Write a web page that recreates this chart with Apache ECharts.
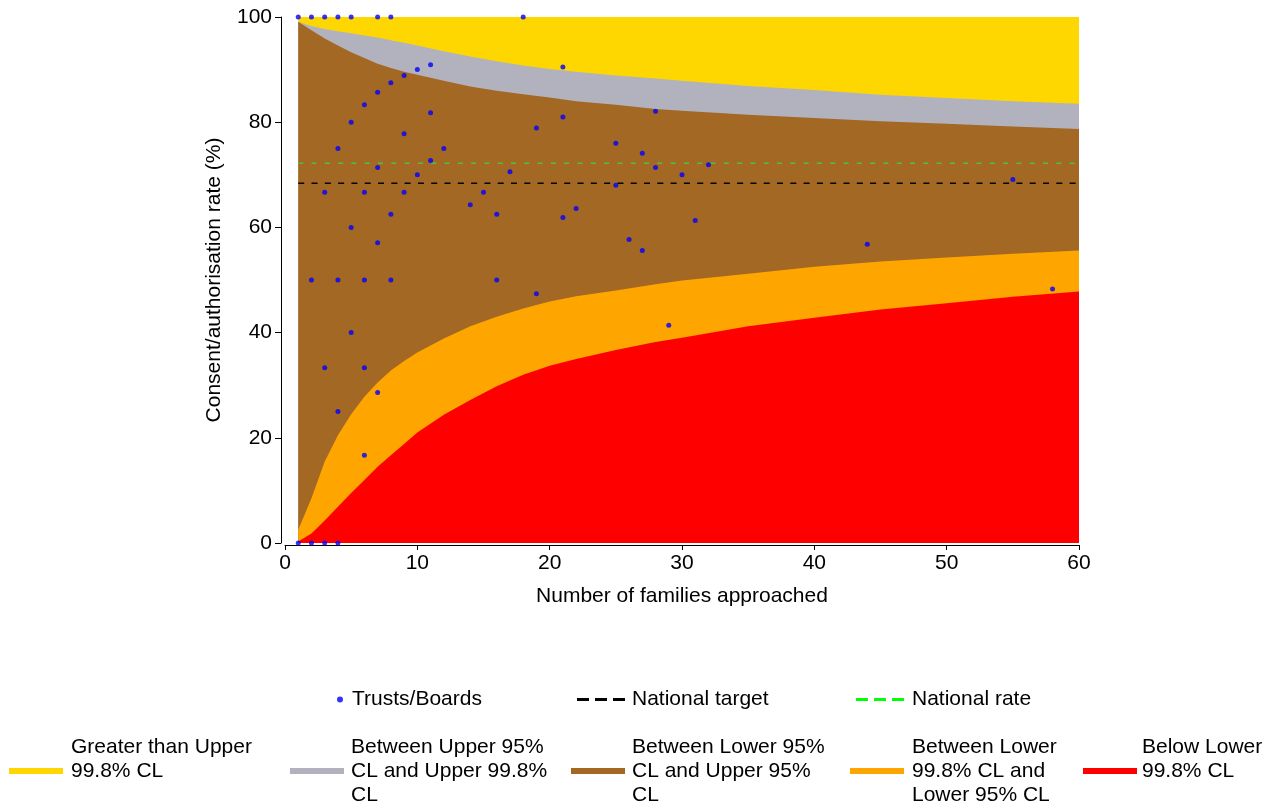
<!DOCTYPE html>
<html>
<head>
<meta charset="utf-8">
<script src="https://cdn.jsdelivr.net/npm/echarts@6/dist/echarts.min.js"></script>
<style>
html,body{margin:0;padding:0;background:#fff;}
#chart{width:1269px;height:805px;}
</style>
</head>
<body>
<div id="chart"></div>
<script>
// Funnel limit positions (number of families approached)
var limitN = [1,2,3,4,5,6,7,8,9,10,12,14,16,18,20,22,25,28,30,35,40,45,50,55,60];
var upper998 = [99.1,98.3,97.7,97.3,96.9,96.5,96.1,95.6,95.1,94.6,93.5,92.5,91.6,90.8,90.1,89.6,88.9,88.3,87.9,86.9,86.1,85.2,84.6,84.0,83.5];
var upper95  = [99.1,97.5,95.9,94.6,93.3,92.2,91.1,90.3,89.6,89.0,87.9,86.8,86.0,85.3,84.7,84.0,83.3,82.5,82.2,81.4,80.8,80.2,79.7,79.2,78.7];
var lower95  = [2.5,8.5,15.5,20.5,24.5,27.8,30.5,32.8,34.6,36.2,38.9,41.2,43.0,44.6,45.9,46.9,48.0,49.2,49.9,51.2,52.5,53.5,54.3,55.0,55.6];
var lower998 = [0.3,1.8,4.3,6.9,9.5,12.0,14.5,16.7,18.8,21.0,24.4,27.2,29.8,32.0,33.7,35.0,36.7,38.2,39.0,41.2,42.8,44.4,45.6,46.8,47.8];

// Trusts/Boards: families approached and consent rate (%)
var trustN    = [1,1,2,2,2,3,3,3,3,4,4,4,4,4,5,5,5,5,6,6,6,6,6,7,7,7,7,7,8,8,8,8,9,9,9,10,10,11,11,11,12,14,15,16,16,17,18,19,19,21,21,21,22,25,25,26,27,27,28,28,29,30,31,32,44,55,58];
var trustRate = [100,0,100,50,0,100,66.7,33.3,0,100,75,50,25,0,100,80,60,40,83.3,66.7,50,33.3,16.7,100,85.7,71.4,57.1,28.6,100,87.5,62.5,50,88.9,77.8,66.7,90,70,90.9,81.8,72.7,75,64.3,66.7,62.5,50,70.6,100,78.9,47.4,90.5,81.0,61.9,63.6,76,68,57.7,74.1,55.6,82.1,71.4,41.4,70,61.3,71.9,56.8,69.1,48.3];

var nationalTarget = 68.4;
var nationalRate = 72.2;
var xRange = [1, 60];

var xTicks = [0,10,20,30,40,50,60];
var yTicks = [0,20,40,60,80,100];

var bandNames = [
  'Greater than Upper 99.8% CL',
  'Between Upper 95% CL and Upper 99.8% CL',
  'Between Lower 95% CL and Upper 95% CL',
  'Between Lower 99.8% CL and Lower 95% CL',
  'Below Lower 99.8% CL'
];
var bandLabels = [
  'Greater than Upper\n99.8% CL\n ',
  'Between Upper 95%\nCL and Upper 99.8%\nCL',
  'Between Lower 95%\nCL and Upper 95%\nCL',
  'Between Lower\n99.8% CL and\nLower 95% CL',
  'Below Lower\n99.8% CL\n '
];
var bandColors = ['#FFD700','#B2B2BE','#A36823','#FFA500','#FF0000'];

function pairs(xs, ys){ return xs.map(function(x,i){ return [x, ys[i]]; }); }

var topLine = xRange.map(function(x){ return [x, 100]; });
var bandData = [topLine, pairs(limitN, upper998), pairs(limitN, upper95), pairs(limitN, lower95), pairs(limitN, lower998)];

var FONT = 'Liberation Sans, Arial, sans-serif';

var series = bandData.map(function(d, i){
  return {
    name: bandNames[i], type: 'line', data: d, symbol: 'none', silent: true,
    itemStyle: {color: bandColors[i]},
    lineStyle: {width: 0, color: bandColors[i]},
    areaStyle: {color: bandColors[i], opacity: 1, origin: 'start'},
    z: 1 + i
  };
});
series.push({
  name: 'Trusts/Boards', type: 'scatter', data: pairs(trustN, trustRate),
  symbol: 'circle', symbolSize: 5, itemStyle: {color: '#0000FF'}, clip: false, z: 10
});
series.push({
  name: 'National target', type: 'line', symbol: 'none', z: 9,
  data: xRange.map(function(x){ return [x, nationalTarget]; }),
  itemStyle: {color: '#000000'},
  lineStyle: {color: '#000000', width: 1.5, type: [6, 7.3]}
});
series.push({
  name: 'National rate', type: 'line', symbol: 'none', z: 9,
  data: xRange.map(function(x){ return [x, nationalRate]; }),
  itemStyle: {color: '#00FF00'},
  lineStyle: {color: '#4FC043', width: 1.5, type: [5, 8.3]}
});

var txt = {fontFamily: FONT, fontSize: 21, color: '#000'};
var dashIcon = 'path://M0,0h12v3h-12z M18,0h12v3h-12z M36,0h12v3h-12z';

var legends = [
  {data: ['Trusts/Boards'], left: 337, top: 689, icon: 'circle', itemWidth: 6, itemHeight: 6,
   itemStyle: {color: '#0000FF'}, textStyle: Object.assign({}, txt, {padding: [0,0,0,4]})},
  {data: ['National target'], left: 577, top: 689, icon: dashIcon, itemWidth: 48, itemHeight: 3,
   itemStyle: {color: '#000000'}, textStyle: Object.assign({}, txt, {padding: [0,0,0,2]})},
  {data: ['National rate'], left: 856, top: 689, icon: dashIcon, itemWidth: 48, itemHeight: 3,
   itemStyle: {color: '#00FF00'}, textStyle: Object.assign({}, txt, {padding: [0,0,0,3]})}
].map(function(l){
  l.padding = 0; l.selectedMode = false;
  return l;
});
var bandLeft = [9, 290, 571, 850, 1083];
var bandTextPad = [3, 2, 2, 3, 0];
bandNames.forEach(function(n, i){
  legends.push({
    data: [n], left: bandLeft[i], top: 735, padding: 0, selectedMode: false,
    icon: 'rect', itemWidth: 54, itemHeight: 6,
    textStyle: Object.assign({}, txt, {lineHeight: 24, padding: [0,0,0,bandTextPad[i]]}),
    formatter: function(){ return bandLabels[i]; }
  });
});

var chart = echarts.init(document.getElementById('chart'), null, {renderer: 'canvas'});
chart.setOption({
  animation: false,
  backgroundColor: '#ffffff',
  textStyle: {fontFamily: FONT},
  grid: {left: 285, right: 190, top: 17, bottom: 262, containLabel: false},
  legend: legends,
  xAxis: {
    type: 'value', min: 0, max: 60, interval: 10, offset: 2,
    name: 'Number of families approached', nameLocation: 'middle', nameGap: 41,
    nameTextStyle: txt,
    axisLine: {show: true, onZero: false, lineStyle: {color: '#000', width: 1}},
    axisTick: {show: true, length: 5, lineStyle: {color: '#000'}},
    axisLabel: Object.assign({}, txt, {margin: 8,
      formatter: function(v){ return xTicks.indexOf(v) >= 0 ? String(v) : ''; }}),
    splitLine: {show: false}
  },
  yAxis: {
    type: 'value', min: 0, max: 100, interval: 20, offset: 4,
    name: 'Consent/authorisation rate (%)', nameLocation: 'middle', nameGap: 56,
    nameTextStyle: txt,
    axisLine: {show: true, onZero: false, lineStyle: {color: '#000', width: 1}},
    axisTick: {show: true, length: 6, lineStyle: {color: '#000'}},
    axisLabel: Object.assign({}, txt, {margin: 9,
      formatter: function(v){ return yTicks.indexOf(v) >= 0 ? String(v) : ''; }}),
    splitLine: {show: false}
  },
  series: series
});
</script>
</body>
</html>
